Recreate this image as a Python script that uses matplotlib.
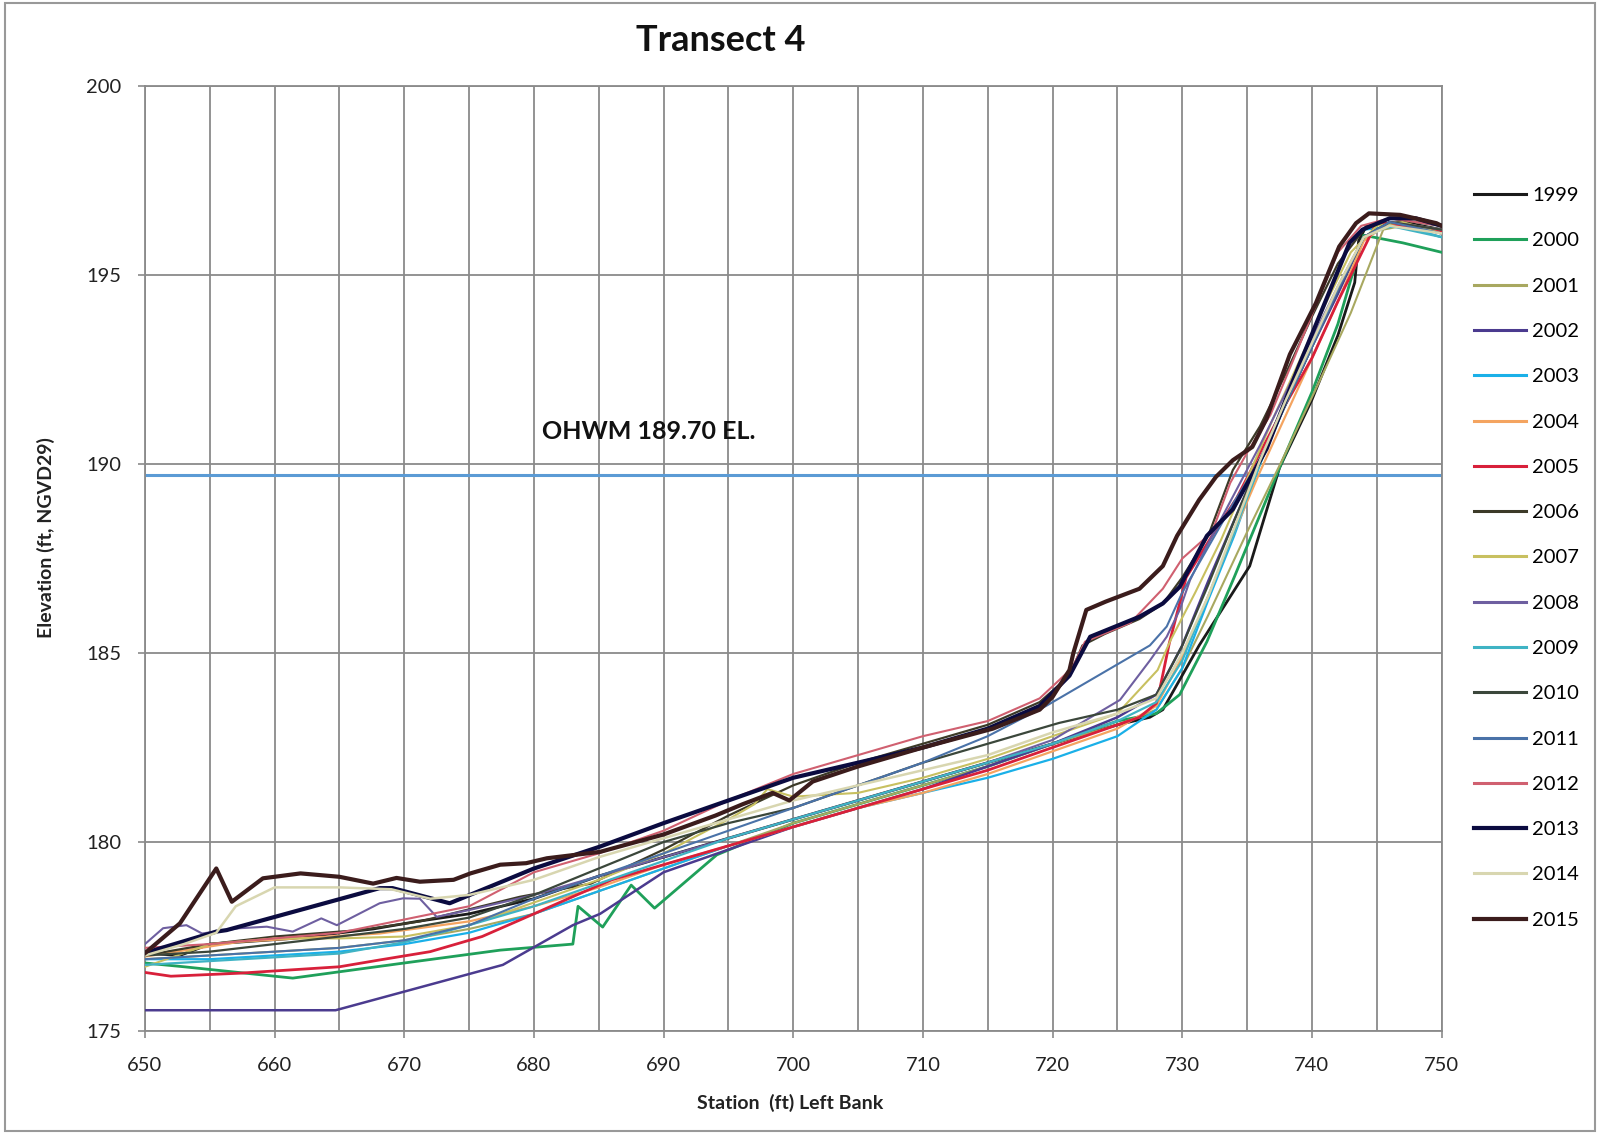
import matplotlib
matplotlib.use("Agg")
import matplotlib.pyplot as plt
from matplotlib.patches import Rectangle
from matplotlib.lines import Line2D

plt.rcParams['font.family'] = ['Lato', 'DejaVu Sans']

years = ['1999', '2000', '2001', '2002', '2003', '2004', '2005', '2006', '2007',
         '2008', '2009', '2010', '2011', '2012', '2013', '2014', '2015']

x_1999 = [650, 652.7, 655, 661.4, 667.6, 671, 675, 680, 685, 690, 695, 700, 705, 710, 715, 720, 725, 727.5, 728.5, 731.3, 735.2, 737.5, 740, 742, 743.3, 743.6, 744.2, 747, 750]
y_1999 = [177.06, 177.0, 177.3, 177.45, 177.7, 177.9, 178.1, 178.5, 179.1, 179.6, 180.1, 180.6, 181.1, 181.6, 182.1, 182.6, 183.1, 183.3, 183.5, 185.2, 187.3, 189.9, 191.7, 193.4, 194.8, 195.9, 196.3, 196.4, 196.2]

x_2000 = [650, 653, 661.4, 670, 677.4, 683.0, 683.4, 685.3, 687.5, 689.3, 694.1, 700, 705, 710, 715, 720, 725, 728, 729.8, 731.9, 734, 737.5, 740, 742, 744, 747, 750]
y_2000 = [176.8, 176.7, 176.4, 176.8, 177.14, 177.3, 178.3, 177.75, 178.86, 178.25, 179.66, 180.5, 181.0, 181.5, 182.0, 182.6, 183.2, 183.4, 183.9, 185.3, 187.0, 189.9, 191.9, 193.7, 196.05, 195.85, 195.6]

x_2001 = [650, 655, 660, 665, 670, 675, 680, 685, 690, 695, 700, 705, 710, 715, 720, 725, 728, 730, 732, 735, 737.7, 740.6, 743, 745.5, 747, 750]
y_2001 = [176.9, 177.0, 177.1, 177.2, 177.4, 177.7, 178.1, 178.7, 179.3, 179.9, 180.5, 181.0, 181.5, 182.0, 182.6, 183.1, 183.5, 184.6, 186.0, 188.2, 190.1, 192.2, 194.0, 196.2, 196.3, 196.0]

x_2002 = [650, 664.7, 677.6, 683.0, 685.1, 690, 695, 700, 705, 710, 715, 720, 725, 728, 730, 732, 734, 736, 738, 740, 742, 744, 746, 750]
y_2002 = [175.55, 175.55, 176.75, 177.8, 178.1, 179.2, 179.8, 180.4, 180.9, 181.4, 182.0, 182.6, 183.3, 183.9, 185.2, 186.9, 188.5, 190.1, 191.6, 193.1, 194.5, 196.0, 196.4, 196.1]

x_2003 = [650, 655, 660, 665, 670, 675, 680, 685, 690, 695, 700, 705, 710, 715, 720, 725, 728, 730, 732, 734, 736, 739, 742.9, 744, 747, 750]
y_2003 = [176.9, 176.9, 177.0, 177.1, 177.3, 177.6, 178.1, 178.7, 179.3, 179.9, 180.4, 180.9, 181.3, 181.7, 182.2, 182.8, 183.5, 184.6, 186.4, 188.1, 190.0, 192.6, 195.85, 196.2, 196.3, 196.0]

x_2004 = [650, 657.3, 668.1, 675, 680, 685, 690, 695, 700, 705, 710, 715, 720, 725, 728, 730, 732, 734, 736, 738, 740, 742, 744, 746, 750]
y_2004 = [176.97, 177.36, 177.58, 177.9, 178.3, 178.8, 179.4, 179.9, 180.4, 180.9, 181.3, 181.8, 182.4, 183.0, 183.6, 184.9, 186.5, 188.2, 189.8, 191.3, 192.8, 194.3, 195.9, 196.4, 196.2]

x_2005 = [650, 652, 657.3, 665, 668.1, 672, 676, 680, 683.3, 686, 690, 695, 700, 705, 710, 715, 720, 725, 726.7, 728, 728.3, 729, 729.8, 730.3, 732.3, 734.2, 736, 738, 740, 742, 744, 745, 748.5, 750]
y_2005 = [176.55, 176.45, 176.53, 176.7, 176.88, 177.1, 177.5, 178.1, 178.6, 179.0, 179.4, 179.9, 180.4, 180.9, 181.4, 181.9, 182.5, 183.1, 183.3, 183.67, 184.1, 185.26, 186.32, 187.0, 188.1, 189.1, 190.3, 191.6, 192.8, 194.3, 195.7, 196.4, 196.23, 196.15]

x_2006 = [650, 655, 660, 666.6, 671.2, 674.3, 678.9, 684.4, 690, 695, 700, 705, 710, 715, 719, 721.3, 722.3, 724, 726.7, 728.5, 730, 732, 733.9, 736, 738, 740, 742, 744, 746, 750]
y_2006 = [177.0, 177.3, 177.5, 177.67, 177.9, 178.16, 178.55, 178.9, 179.8, 180.7, 181.5, 182.1, 182.6, 183.1, 183.7, 184.4, 185.2, 185.5, 185.9, 186.3, 187.0, 188.1, 189.84, 191.0, 192.4, 193.9, 195.3, 196.2, 196.5, 196.3]

x_2007 = [650, 655, 660, 665, 670, 675, 680, 685, 690, 695, 697, 698, 700, 705, 710, 715, 720, 725, 728.1, 729.1, 731, 733, 735, 737, 739, 741, 743, 745, 747, 750]
y_2007 = [176.7, 177.3, 177.45, 177.45, 177.5, 177.8, 178.4, 179.0, 179.7, 180.6, 181.0, 181.4, 181.2, 181.3, 181.7, 182.2, 182.8, 183.4, 184.55, 185.34, 186.6, 188.0, 189.6, 191.2, 192.7, 194.2, 195.6, 196.3, 196.4, 196.1]

x_2008 = [650, 651.4, 653.2, 654.4, 657.3, 659.4, 661.4, 663.6, 664.8, 668.1, 669.9, 671.2, 672.5, 675, 680, 685, 690, 695, 700, 705, 710, 715, 720, 725.2, 727.5, 728.8, 729.8, 730.6, 732, 734, 736, 738, 740, 742, 744, 746, 750]
y_2008 = [177.3, 177.72, 177.8, 177.58, 177.72, 177.76, 177.63, 177.98, 177.8, 178.38, 178.51, 178.5, 178.02, 178.2, 178.6, 179.1, 179.6, 180.1, 180.6, 181.1, 181.6, 182.1, 182.7, 183.76, 184.8, 185.43, 186.14, 186.93, 187.9, 189.2, 190.5, 191.9, 193.3, 194.7, 196.0, 196.4, 196.2]

x_2009 = [650, 655, 660, 665, 670, 675, 680, 685, 690, 695, 700, 705, 710, 715, 720, 725, 728, 730, 732, 734, 736, 738, 740, 742, 744, 746, 750]
y_2009 = [176.75, 176.85, 176.95, 177.05, 177.35, 177.8, 178.3, 178.9, 179.5, 180.1, 180.6, 181.1, 181.6, 182.1, 182.6, 183.2, 183.7, 184.8, 186.5, 188.2, 190.0, 191.6, 193.1, 194.6, 196.0, 196.3, 196.0]

x_2010 = [650, 655, 660, 665, 670, 675, 680, 685, 690, 695, 700, 705, 710, 715, 720.5, 725, 728, 730, 732, 734, 736, 738, 740, 742, 744, 746, 750]
y_2010 = [177.0, 177.1, 177.3, 177.5, 177.7, 178.0, 178.6, 179.3, 180.0, 180.5, 180.9, 181.5, 182.1, 182.6, 183.15, 183.5, 183.9, 185.2, 186.8, 188.5, 190.1, 191.6, 193.1, 194.6, 196.0, 196.4, 196.2]

x_2011 = [650, 655, 660, 665, 670, 675, 680, 685, 690, 695, 700, 705, 710, 715, 719.5, 727.5, 728.8, 730, 732, 734, 736, 738, 740, 742, 744, 746, 750]
y_2011 = [176.9, 177.0, 177.1, 177.2, 177.4, 177.8, 178.5, 179.1, 179.7, 180.3, 180.9, 181.5, 182.1, 182.8, 183.6, 185.2, 185.7, 186.6, 187.8, 189.0, 190.1, 191.6, 193.1, 194.6, 196.0, 196.4, 196.1]

x_2012 = [650, 655, 665, 675, 680, 685, 690, 695, 700, 705, 710, 715, 719, 721.5, 722.5, 726, 728.5, 730, 732.3, 733.7, 735, 736.8, 738.5, 740.3, 742, 743.8, 746, 750]
y_2012 = [177.2, 177.3, 177.6, 178.3, 179.2, 179.7, 180.3, 181.1, 181.8, 182.3, 182.8, 183.2, 183.8, 184.6, 185.3, 185.8, 186.7, 187.5, 188.2, 189.5, 190.3, 191.3, 192.7, 194.2, 195.6, 196.3, 196.5, 196.3]

x_2013 = [650, 651.2, 655.5, 656.3, 668.1, 669.1, 673.5, 680, 685.1, 690, 695, 700, 705, 710, 715, 719, 721.3, 722.9, 726.7, 728.5, 729.8, 731.9, 733.9, 735.2, 736.5, 739, 742.9, 743.9, 746, 748, 750]
y_2013 = [177.06, 177.19, 177.63, 177.67, 178.78, 178.78, 178.38, 179.3, 179.88, 180.5, 181.1, 181.7, 182.1, 182.5, 183.0, 183.6, 184.4, 185.43, 185.96, 186.31, 186.75, 188.1, 188.8, 189.6, 190.4, 192.6, 195.85, 196.2, 196.5, 196.5, 196.3]

x_2014 = [650, 653, 655.5, 657, 660, 665, 669, 672, 675, 680, 685, 690, 695, 700, 705, 710, 715, 720, 725, 728, 730, 732, 734, 736, 738, 740, 742, 744, 746, 750]
y_2014 = [177.0, 177.3, 177.6, 178.3, 178.8, 178.8, 178.75, 178.5, 178.6, 179.0, 179.6, 180.1, 180.6, 181.1, 181.5, 181.9, 182.3, 182.9, 183.4, 183.8, 185.0, 186.5, 188.3, 190.1, 191.7, 193.2, 194.7, 196.0, 196.3, 196.1]

x_2015 = [650, 652.7, 655.5, 656.7, 659.1, 662, 665, 667.6, 669.4, 671.2, 673.8, 675.1, 677.4, 679.4, 681, 685.1, 690, 694, 696.1, 698.4, 699.7, 701.5, 705, 710, 715.4, 719, 720, 721.3, 721.6, 722.6, 724.1, 726.7, 728.5, 729.6, 731.3, 732.6, 733.9, 735.4, 736.5, 738.3, 740.3, 742.1, 743.4, 744.4, 746.8, 749.6, 750]
y_2015 = [177.06, 177.85, 179.3, 178.42, 179.04, 179.17, 179.08, 178.9, 179.05, 178.95, 179.0, 179.17, 179.4, 179.44, 179.57, 179.74, 180.2, 180.7, 181.0, 181.3, 181.1, 181.6, 182.0, 182.5, 183.0, 183.5, 183.84, 184.55, 185.0, 186.14, 186.36, 186.7, 187.3, 188.1, 189.05, 189.66, 190.1, 190.45, 191.2, 192.9, 194.25, 195.75, 196.37, 196.63, 196.59, 196.37, 196.3]

xs = [x_1999, x_2000, x_2001, x_2002, x_2003, x_2004, x_2005, x_2006, x_2007,
      x_2008, x_2009, x_2010, x_2011, x_2012, x_2013, x_2014, x_2015]
ys = [y_1999, y_2000, y_2001, y_2002, y_2003, y_2004, y_2005, y_2006, y_2007,
      y_2008, y_2009, y_2010, y_2011, y_2012, y_2013, y_2014, y_2015]

colors = ['#1a1a1a', '#1fa05a', '#a8a860', '#4b3b8f', '#1ab0e8', '#f4a460', '#d8203a',
          '#3c3a28', '#c8c060', '#6e5fa0', '#3fb3c4', '#3b473b', '#4a72a8', '#d06070',
          '#0b0b40', '#d8d6b0', '#3b1c1c']
widths = [2.0, 2.0, 1.5, 1.8, 1.6, 1.6, 2.0, 1.6, 1.5, 1.5, 1.6, 1.6, 1.5, 1.5, 3.0, 1.8, 3.0]

ohwm_elev = 189.70
x_range = [650, 750]

fig = plt.figure(figsize=(16, 11.34), dpi=100)
ax = fig.add_axes([0.0906, 0.0908, 0.8104, 0.8334])

ax.set_xlim(650, 750)
ax.set_ylim(175, 200)
ax.set_xticks(range(650, 751, 10))
ax.set_xticks(range(650, 751, 5), minor=True)
ax.set_yticks(range(175, 201, 5))
ax.grid(True, which='both', axis='x', color='#8a8a8a', lw=1.3)
ax.grid(True, which='major', axis='y', color='#8a8a8a', lw=1.3)
ax.set_axisbelow(True)
for s in ax.spines.values():
    s.set_color('#8a8a8a')
    s.set_linewidth(1.3)
ax.tick_params(axis='both', which='major', labelsize=14.5, colors='#8a8a8a',
               labelcolor='#222222', length=5, width=1.2)
ax.tick_params(axis='x', which='major', pad=14)
ax.tick_params(axis='y', which='major', pad=12)
ax.tick_params(axis='x', which='minor', length=0)

ax.plot(x_range, [ohwm_elev, ohwm_elev], color='#5b9bd5', lw=2.2, zorder=2)

handles = []
for yr, x, y, c, w in zip(years, xs, ys, colors, widths):
    ax.plot(x, y, color=c, lw=w, zorder=3, solid_joinstyle='round')
    handles.append(Line2D([0], [0], color=c, lw=max(w, 2.2), label=yr))

ax.text(680.6, 190.87, 'OHWM 189.70 EL.', fontsize=18, fontweight='bold',
        va='center', ha='left', color='#111111')

fig.text(0.4506, 0.964, 'Transect 4', fontsize=26, fontweight='bold',
         ha='center', va='center', color='#111111')
fig.text(0.494, 0.027, 'Station  (ft) Left Bank', fontsize=14, fontweight='bold',
         ha='center', va='center', color='#222222')
fig.text(0.029, 0.526, 'Elevation (ft, NGVD29)', fontsize=14, fontweight='bold',
         ha='center', va='center', rotation=90, color='#222222')

fig.legend(handles=handles, loc='upper left', bbox_to_anchor=(1474 / 1600, 1 - 187 / 1134),
           frameon=False, fontsize=14.5, handlelength=2.6, handletextpad=0.3,
           labelspacing=1.40, borderpad=0, borderaxespad=0)

fig.patches.append(Rectangle((0.003, 0.003), 0.994, 0.994, transform=fig.transFigure,
                             fill=False, ec='#999999', lw=1.5))

fig.savefig('out.png', dpi=100, facecolor='white')
